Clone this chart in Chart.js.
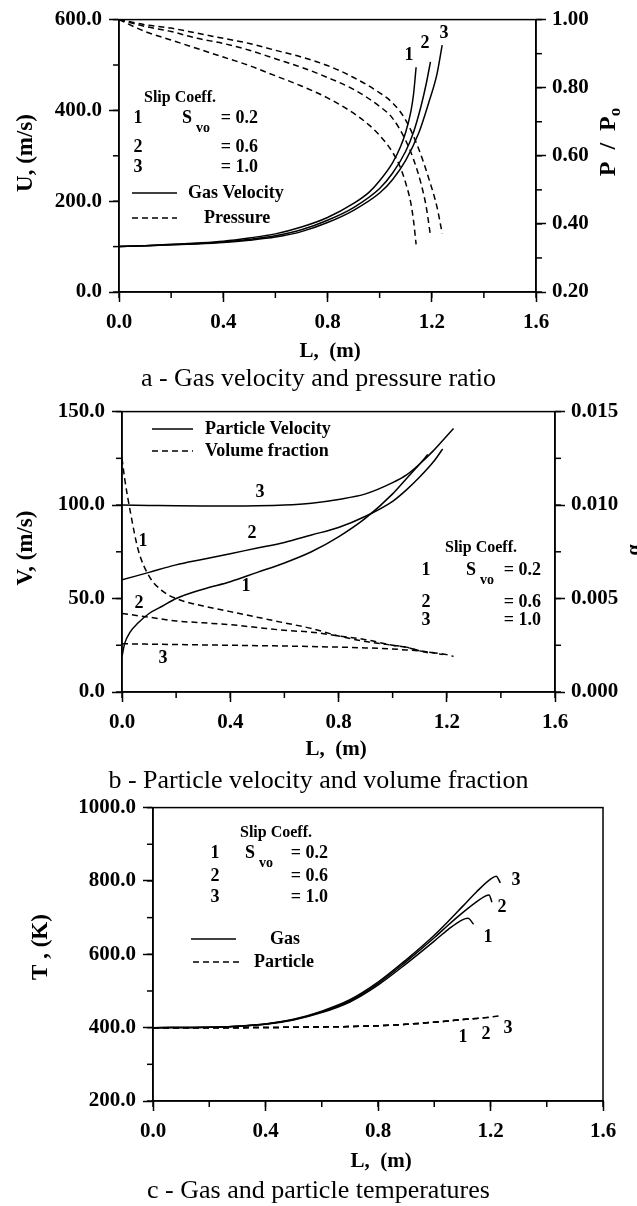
<!DOCTYPE html>
<html>
<head>
<meta charset="utf-8">
<title>Gas-particle flow</title>
<script src="https://cdn.jsdelivr.net/npm/chart.js@4.4.1/dist/chart.umd.min.js"></script>
<style>
  body { margin: 0; background: #fff; }
  #page { position: relative; width: 637px; height: 1206px; overflow: hidden; background: #fff; }
  canvas { position: absolute; left: 0; }
  .cap { position: absolute; left: 0; width: 637px; text-align: center;
         font-family: "Liberation Serif", "Times New Roman", serif; font-size: 26px;
         line-height: 28px; color: #000; }
</style>
</head>
<body>
<div id="page">
  <canvas id="chartA" width="637" height="366" style="top:0px;width:637px;height:366px"></canvas>
  <div class="cap" style="top:364px">a - Gas velocity and pressure ratio</div>
  <canvas id="chartB" width="637" height="372" style="top:392px;width:637px;height:372px"></canvas>
  <div class="cap" style="top:766px">b - Particle velocity and volume fraction</div>
  <canvas id="chartC" width="637" height="388" style="top:788px;width:637px;height:388px"></canvas>
  <div class="cap" style="top:1176px">c - Gas and particle temperatures</div>
</div>
<script>
// ---- panel a : gas velocity (m/s) and pressure ratio P/P0 along L (m)
const lenA1 = [0,0.1,0.2,0.3,0.4,0.5,0.6,0.7,0.8,0.9,0.96,1.0,1.05,1.08,1.1,1.12,1.13,1.14]
const gasU1 = [100,102,105,108,112,119,128,143,164,195,220,245,285,320,352,398,435,495]
const pres1 = [1.0,0.965,0.94,0.915,0.89,0.865,0.835,0.805,0.77,0.725,0.69,0.66,0.61,0.565,0.52,0.46,0.41,0.34]

const lenA2 = [0,0.1,0.2,0.3,0.4,0.5,0.6,0.7,0.8,0.9,1.0,1.05,1.1,1.13,1.16,1.18,1.195]
const gasU2 = [100,102,104,107,110,116,124,137,158,186,228,262,310,352,412,462,507]
const pres2 = [1.0,0.98,0.965,0.945,0.93,0.91,0.885,0.86,0.83,0.795,0.745,0.71,0.645,0.59,0.515,0.445,0.365]

const lenA3 = [0,0.1,0.2,0.3,0.4,0.5,0.6,0.7,0.8,0.9,1.0,1.05,1.1,1.15,1.19,1.22,1.24]
const gasU3 = [100,102,104,106,109,114,121,133,153,180,218,248,290,350,420,480,544]
const pres3 = [1.0,0.985,0.975,0.96,0.945,0.93,0.91,0.89,0.865,0.83,0.785,0.755,0.705,0.62,0.53,0.45,0.372]

// ---- panel b : particle velocity (m/s) and volume fraction
const lenB1 = [0,0.01,0.03,0.06,0.1,0.15,0.2,0.3,0.4,0.5,0.6,0.7,0.8,0.9,1.0,1.05,1.1,1.13]
const partV1 = [19,26,32,37,42,46,50,55,59,64,69,75,83,93,106,114,122,127]
const volF1 = [0.0125,0.0114,0.0097,0.0076,0.0062,0.0054,0.0050,0.0046,0.0043,0.0040,0.0037,0.0034,0.0030,0.0027,0.0025,0.0024,0.0022,0.0021]

const lenB2 = [0,0.1,0.2,0.3,0.4,0.5,0.6,0.7,0.8,0.9,1.0,1.05,1.1,1.15,1.185]
const partV2 = [60,64,68,71,74,77,80,84,88,94,102,108,115,123,130]
const volF2 = [0.0042,0.0040,0.0038,0.0037,0.0036,0.00345,0.0033,0.0032,0.0030,0.0028,0.0025,0.0024,0.0022,0.0021,0.0020]

const lenB3 = [0,0.1,0.2,0.3,0.4,0.5,0.6,0.7,0.8,0.9,1.0,1.05,1.1,1.15,1.2,1.225]
const partV3 = [100,99.8,99.6,99.5,99.5,99.6,100,101,103,106,112,116,122,129,137,141]
const volF3 = [0.00258,0.00256,0.00254,0.00252,0.0025,0.00248,0.00246,0.00243,0.0024,0.00236,0.0023,0.00225,0.0022,0.0021,0.002,0.0019]

// ---- panel c : gas and particle temperature (K)
const lenC1 = [0,0.2,0.3,0.4,0.5,0.6,0.7,0.8,0.9,1.0,1.05,1.1,1.12,1.14]
const gasT1 = [400,401,404,409,421,441,470,516,574,636,668,694,698,682]
const partT1 = [400,400,400,400.5,401,402,403,405,409,415,418,422,423,424]

const lenC2 = [0,0.2,0.3,0.4,0.5,0.6,0.7,0.8,0.9,1.0,1.05,1.1,1.15,1.18,1.195,1.205]
const gasT2 = [400,401,404,410,422,443,473,520,580,645,680,713,743,758,762,742]
const partT2 = [400,400,400,400.5,401,402,403,405,409,415,418,422,425,427,428,428.5]

const lenC3 = [0,0.2,0.3,0.4,0.5,0.6,0.7,0.8,0.9,1.0,1.05,1.1,1.15,1.2,1.22,1.235]
const gasT3 = [400,401,404,410,423,445,476,524,585,652,690,730,770,805,813,795]
const partT3 = [400,400,400,400.5,401,402,403,405,409,415,418,422,425,429,431,432]

const SERIF = '"Liberation Serif", "Times New Roman", serif'

function pts(xs, ys){
    return xs.map((x, i) => ({x: x, y: ys[i]}))
}

function line(xs, ys, axisId, dashed){
    return {
        data: pts(xs, ys),
        yAxisID: axisId,
        showLine: true,
        borderColor: "#000",
        borderWidth: 1.5,
        borderDash: dashed ? [6, 4] : [],
        pointRadius: 0,
        cubicInterpolationMode: "monotone",
        fill: false
    }
}

function axis(pos, min, max, step, dec, pad, size){
    return {
        type: "linear",
        position: pos,
        min: min,
        max: max,
        ticks: {
            stepSize: step,
            color: "#000",
            padding: pad,
            autoSkip: false,
            maxRotation: 0,
            font: {family: SERIF, size: 21, weight: "bold"},
            callback: v => Number(v).toFixed(dec)
        },
        grid: {drawOnChartArea: false, drawTicks: true, tickLength: 10, tickWidth: 1.5, tickColor: "#000"},
        border: {display: true, color: "#000", width: 1.5},
        afterFit: s => { if (pos === "bottom") s.height = size; else s.width = size }
    }
}

// frame, minor ticks, legends and labels
const decor = {
    id: "decor",
    afterDraw(chart, args, opts){
        const ctx = chart.ctx
        const a = chart.chartArea
        const dy = opts.offsetY || 0
        ctx.save()
        ctx.strokeStyle = "#000"
        ctx.fillStyle = "#000"
        ctx.lineWidth = 1.5
        ctx.strokeRect(a.left, a.top, a.right - a.left, a.bottom - a.top)

        // minor ticks
        ;(opts.minor || []).forEach(m => {
            const s = chart.scales[m.id]
            const n = Math.round((s.max - s.min) / m.step)
            for (let i = 0; i <= n; i++){
                const p = s.getPixelForValue(s.min + i * m.step)
                ctx.beginPath()
                if (s.position === "bottom"){ ctx.moveTo(p, a.bottom); ctx.lineTo(p, a.bottom + 6) }
                else if (s.position === "left"){ ctx.moveTo(a.left, p); ctx.lineTo(a.left - 6, p) }
                else { ctx.moveTo(a.right, p); ctx.lineTo(a.right + 6, p) }
                ctx.stroke()
            }
        })

        // legend sample lines
        ;(opts.keys || []).forEach(k => {
            ctx.setLineDash(k.dash ? [6, 4] : [])
            ctx.beginPath()
            ctx.moveTo(k.x1, k.y - dy)
            ctx.lineTo(k.x2, k.y - dy)
            ctx.stroke()
        })
        ctx.setLineDash([])

        // texts
        ctx.textBaseline = "middle"
        ;(opts.texts || []).forEach(t => {
            const size = t.s || 18
            const subSize = Math.round(size * 0.72)
            ctx.save()
            ctx.font = "bold " + size + "px " + SERIF
            ctx.translate(t.x, t.y - dy)
            if (t.rot){
                ctx.rotate(-Math.PI / 2)
                const w0 = ctx.measureText(t.t).width
                let w1 = 0
                if (t.sub){
                    ctx.font = "bold " + subSize + "px " + SERIF
                    w1 = ctx.measureText(t.sub).width
                }
                const x0 = -(w0 + w1) / 2
                ctx.textAlign = "left"
                ctx.font = "bold " + size + "px " + SERIF
                ctx.fillText(t.t, x0, 0)
                if (t.sub){
                    ctx.font = "bold " + subSize + "px " + SERIF
                    ctx.fillText(t.sub, x0 + w0, 7)
                }
            } else {
                ctx.textAlign = t.a || "center"
                ctx.fillText(t.t, 0, 0)
            }
            ctx.restore()
        })
        ctx.restore()
    }
}

Chart.register(decor)

function slipBlock(xNum, xS, xEq, y1, y2, y3, xHead, yHead){
    return [
        {t: "Slip Coeff.", x: xHead, y: yHead, s: 16},
        {t: "1", x: xNum, y: y1, s: 18},
        {t: "S", x: xS, y: y1, s: 18},
        {t: "vo", x: xS + 16, y: y1 + 10, s: 14},
        {t: "= 0.2", x: xEq, y: y1, s: 18, a: "right"},
        {t: "2", x: xNum, y: y2, s: 18},
        {t: "= 0.6", x: xEq, y: y2, s: 18, a: "right"},
        {t: "3", x: xNum, y: y3, s: 18},
        {t: "= 1.0", x: xEq, y: y3, s: 18, a: "right"}
    ]
}

function baseOptions(scales, padding, plug){
    return {
        responsive: false,
        animation: false,
        devicePixelRatio: 1,
        events: [],
        layout: {padding: padding},
        scales: scales,
        plugins: {legend: {display: false}, tooltip: {enabled: false}, decor: plug}
    }
}

// ---------- chart a
new Chart(document.getElementById("chartA"), {
    type: "scatter",
    data: {datasets: [
        line(lenA1, gasU1, "y", false),
        line(lenA2, gasU2, "y", false),
        line(lenA3, gasU3, "y", false),
        line(lenA1, pres1, "y1", true),
        line(lenA2, pres2, "y1", true),
        line(lenA3, pres3, "y1", true)
    ]},
    options: baseOptions({
        x: axis("bottom", 0, 1.6, 0.4, 1, 8, 366 - 292),
        y: axis("left", 0, 600, 200, 1, 7, 119),
        y1: axis("right", 0.2, 1.0, 0.2, 2, 6, 637 - 536)
    }, {top: 14, left: 0, right: 0, bottom: 0}, {
        offsetY: 0,
        minor: [{id: "x", step: 0.2}, {id: "y", step: 100}, {id: "y1", step: 0.1}],
        keys: [{x1: 132, x2: 177, y: 193}, {x1: 132, x2: 177, y: 218, dash: true}],
        texts: slipBlock(138, 187, 258, 118, 147, 167, 180, 98).concat([
            {t: "Gas Velocity", x: 188, y: 193, a: "left"},
            {t: "Pressure", x: 204, y: 218, a: "left"},
            {t: "1", x: 409, y: 55},
            {t: "2", x: 425, y: 43},
            {t: "3", x: 444, y: 33},
            {t: "U, (m/s)", x: 26, y: 153, s: 23, rot: true},
            {t: "P  /  P", sub: "o", x: 609, y: 142, s: 24, rot: true},
            {t: "L,  (m)", x: 330, y: 352, s: 21}
        ])
    })
})

// ---------- chart b
new Chart(document.getElementById("chartB"), {
    type: "scatter",
    data: {datasets: [
        line(lenB1, partV1, "y", false),
        line(lenB2, partV2, "y", false),
        line(lenB3, partV3, "y", false),
        line(lenB1, volF1, "y1", true),
        line(lenB2, volF2, "y1", true),
        line(lenB3, volF3, "y1", true)
    ]},
    options: baseOptions({
        x: axis("bottom", 0, 1.6, 0.4, 1, 8, 372 - 300),
        y: axis("left", 0, 150, 50, 1, 7, 122),
        y1: axis("right", 0, 0.015, 0.005, 3, 6, 637 - 555)
    }, {top: 15, left: 0, right: 0, bottom: 0}, {
        offsetY: 392,
        minor: [{id: "x", step: 0.2}, {id: "y", step: 25}, {id: "y1", step: 0.0025}],
        keys: [{x1: 152, x2: 193, y: 429}, {x1: 152, x2: 193, y: 451, dash: true}],
        texts: slipBlock(426, 471, 541, 570, 602, 620, 481, 548).concat([
            {t: "Particle Velocity", x: 205, y: 429, a: "left"},
            {t: "Volume fraction", x: 205, y: 451, a: "left"},
            {t: "3", x: 260, y: 492},
            {t: "2", x: 252, y: 533},
            {t: "1", x: 246, y: 586},
            {t: "1", x: 143, y: 541},
            {t: "2", x: 139, y: 603},
            {t: "3", x: 163, y: 658},
            {t: "V, (m/s)", x: 26, y: 548, s: 23, rot: true},
            {t: "α", x: 635, y: 550, s: 20, rot: true},
            {t: "L,  (m)", x: 336, y: 750, s: 21}
        ])
    })
})

// ---------- chart c
new Chart(document.getElementById("chartC"), {
    type: "scatter",
    data: {datasets: [
        line(lenC1, gasT1, "y", false),
        line(lenC2, gasT2, "y", false),
        line(lenC3, gasT3, "y", false),
        line(lenC1, partT1, "y", true),
        line(lenC2, partT2, "y", true),
        line(lenC3, partT3, "y", true)
    ]},
    options: baseOptions({
        x: axis("bottom", 0, 1.6, 0.4, 1, 8, 388 - 313),
        y: axis("left", 200, 1000, 200, 1, 7, 153)
    }, {top: 19, left: 0, right: 637 - 603, bottom: 0}, {
        offsetY: 788,
        minor: [{id: "x", step: 0.2}, {id: "y", step: 100}],
        keys: [{x1: 191, x2: 236, y: 939}, {x1: 193, x2: 240, y: 962, dash: true}],
        texts: slipBlock(215, 250, 328, 853, 876, 897, 276, 833).concat([
            {t: "Gas", x: 270, y: 939, a: "left"},
            {t: "Particle", x: 254, y: 962, a: "left"},
            {t: "3", x: 516, y: 880},
            {t: "2", x: 502, y: 907},
            {t: "1", x: 488, y: 937},
            {t: "1", x: 463, y: 1037},
            {t: "2", x: 486, y: 1034},
            {t: "3", x: 508, y: 1028},
            {t: "T , (K)", x: 41, y: 947, s: 23, rot: true},
            {t: "L,  (m)", x: 381, y: 1162, s: 21}
        ])
    })
})
</script>
</body>
</html>
